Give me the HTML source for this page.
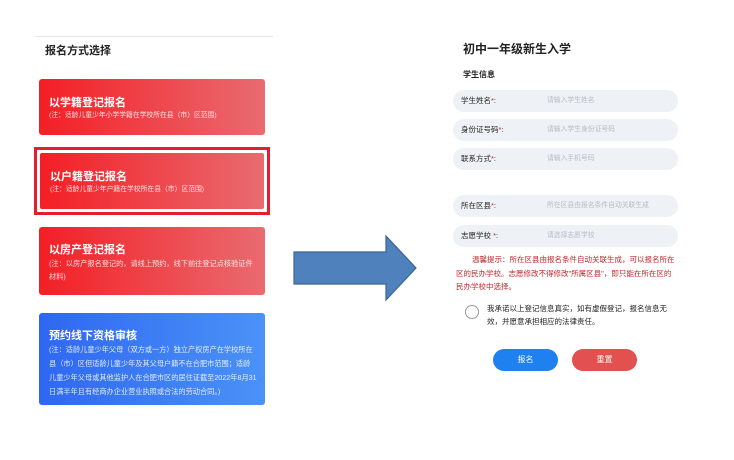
<!DOCTYPE html>
<html><head><meta charset="utf-8"><style>
*{margin:0;padding:0;box-sizing:border-box}
body{width:734px;height:460px;background:#fff;position:relative;font-family:"Liberation Sans","Noto Sans CJK SC",sans-serif;overflow:hidden}
.a{position:absolute}
.card{position:absolute;left:39px;width:226px;border-radius:3px;color:#fff;padding:17px 0 0 10px;background:linear-gradient(90deg,#f31f25,#e96b70)}
.card b{display:block;font-size:11px;line-height:14px}
.card s{text-decoration:none;display:block;font-size:6.8px;line-height:11px;opacity:.85;padding-right:8px}
.blue{background:linear-gradient(90deg,#2e67f2,#4b92f7)}
.blue s{font-size:7.2px;line-height:14px}
.f{position:absolute;left:453px;width:225px;height:22px;border-radius:11px;background:#eef1f6;font-size:7.5px;line-height:22px}
.f i{font-style:normal;position:absolute;left:8px;color:#222}
.f i em{color:#e02020;font-style:normal}
.f u{text-decoration:none;position:absolute;left:94px;color:#b8bcc4;font-size:6.8px}
</style></head><body>
<div class="a" style="left:35px;top:36px;width:238px;height:1px;background:#e4e6ea"></div>
<div class="a" style="left:45px;top:42px;font-size:11px;font-weight:bold;color:#222">报名方式选择</div>
<div class="card" style="top:79px;height:56px"><b>以学籍登记报名</b><s>(注：适龄儿童少年小学学籍在学校所在县（市）区范围)</s></div>
<div class="a" style="left:34px;top:147px;width:236px;height:68px;border:3px solid #e61c2f;background:#fff"></div>
<div class="card" style="top:152px;height:58px;border:1px solid #fff;padding-top:17px"><b>以户籍登记报名</b><s>(注：适龄儿童少年户籍在学校所在县（市）区范围)</s></div>
<div class="card" style="top:227px;height:68px;padding-top:16px"><b>以房产登记报名</b><s style="font-size:7.2px;line-height:13px">(注：以房产报名登记的，请线上预约，线下前往登记点核验证件材料)</s></div>
<div class="card blue" style="top:313px;height:92px;padding-top:16px"><b>预约线下资格审核</b><s>(注：适龄儿童少年父母（双方或一方）独立产权房产在学校所在县（市）区但适龄儿童少年及其父母户籍不在合肥市范围；适龄儿童少年父母或其他监护人在合肥市区的居住证截至2022年8月31日满半年且有经商办企业营业执照或合法的劳动合同。)</s></div>
<svg class="a" style="left:292px;top:234px" width="128" height="70"><polygon points="2,18 94,18 94,2 124,34 94,66 94,50 2,50" fill="#4f81bd" stroke="#3a6595" stroke-width="1.2"/></svg>
<div class="a" style="left:463px;top:40px;font-size:12px;font-weight:bold;color:#222">初中一年级新生入学</div>
<div class="a" style="left:463px;top:69px;font-size:8px;font-weight:bold;color:#222">学生信息</div>
<div class="f" style="top:90px"><i>学生姓名<em>*</em>:</i><u>请输入学生姓名</u></div>
<div class="f" style="top:119px"><i>身份证号码<em>*</em>:</i><u>请输入学生身份证号码</u></div>
<div class="f" style="top:148px"><i>联系方式<em>*</em>:</i><u>请输入手机号码</u></div>
<div class="f" style="top:195px"><i>所在区县<em>*</em>:</i><u>所在区县由报名条件自动关联生成</u></div>
<div class="f" style="top:225px"><i>志愿学校 <em>*</em>:</i><u>请选择志愿学校</u></div>
<div class="a" style="left:456px;top:253px;width:220px;font-size:7.5px;line-height:13.5px;color:#c0262b;text-indent:16px">温馨提示：所在区县由报名条件自动关联生成，可以报名所在区的民办学校。志愿修改不得修改"所属区县"，即只能在所在区的民办学校中选择。</div>
<div class="a" style="left:465px;top:305px;width:14px;height:14px;border:1px solid #999;border-radius:50%"></div>
<div class="a" style="left:487px;top:302px;width:186px;font-size:7.5px;line-height:13px;color:#222">我承诺以上登记信息真实，如有虚假登记，报名信息无效，并愿意承担相应的法律责任。</div>
<div class="a" style="left:493px;top:349px;width:65px;height:22px;border-radius:11px;background:#1f80f0;color:#fff;font-size:8px;line-height:22px;text-align:center">报名</div>
<div class="a" style="left:572px;top:349px;width:65px;height:22px;border-radius:11px;background:#e2504f;color:#fff;font-size:8px;line-height:22px;text-align:center">重置</div>
</body></html>
